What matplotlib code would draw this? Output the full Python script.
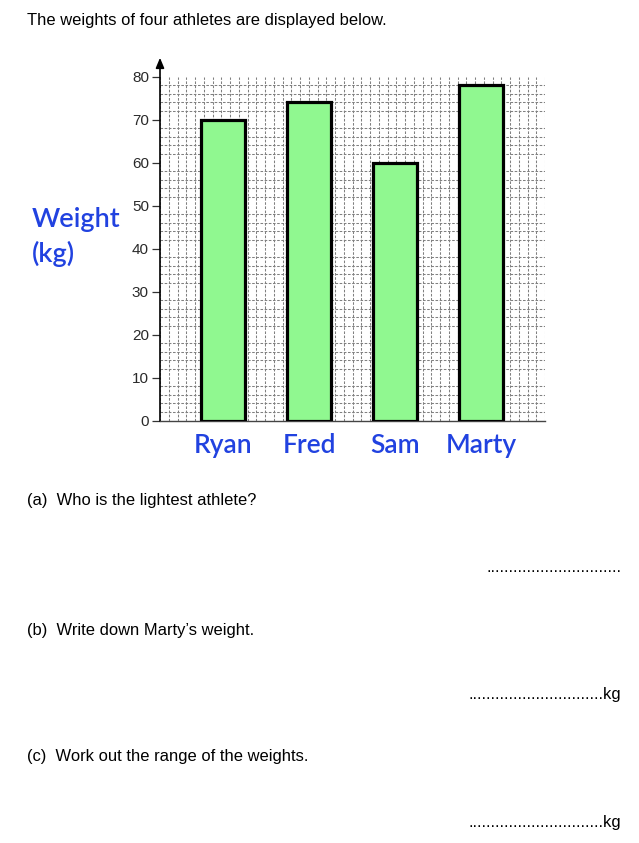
import numpy as np
import matplotlib
matplotlib.use("Agg")
import matplotlib.pyplot as plt

athletes = ["Ryan", "Fred", "Sam", "Marty"]
weights = [70, 74, 60, 78]
y_ticks = [0, 10, 20, 30, 40, 50, 60, 70, 80]

W, H = 639, 843
fig = plt.figure(figsize=(W / 100, H / 100), dpi=100)
fig.patch.set_facecolor("white")

def fx(px):
    return px / W

def fy(py):
    return 1 - py / H

left_px, right_px, top_px, bot_px = 160, 545, 76.5, 420.5
ax = fig.add_axes([fx(left_px), fy(bot_px), fx(right_px - left_px), (bot_px - top_px) / H])

x = np.arange(len(athletes))
xlim = (-0.733, 3.744)
ax.set_xlim(*xlim)
ax.set_ylim(0, 80)

# grid
ax.set_xticks(np.linspace(xlim[0], xlim[1], 45), minor=True)
ax.set_yticks(np.arange(0, 81, 2), minor=True)
ax.grid(which="minor", color="#808080", linestyle=(0, (2.5, 1.5)), linewidth=0.75, zorder=0)
ax.set_axisbelow(True)

ax.bar(x, weights, width=0.52, color="#90f890", edgecolor="black", linewidth=2.3, zorder=3)

ax.set_yticks(y_ticks)
ax.set_yticklabels([str(v) for v in y_ticks], fontsize=11, color="#2a2a2a", family="Liberation Sans")
ax.tick_params(axis="y", which="major", length=6, width=0.9, color="#333333", pad=2)
ax.tick_params(axis="y", which="minor", length=0)
ax.tick_params(axis="x", which="both", length=0)
ax.set_xticks(x)
ax.set_xticklabels(athletes, fontsize=19, color="#2142e0", family="Lato", fontweight="semibold")
ax.tick_params(axis="x", which="major", pad=9)

for s in ["top", "right"]:
    ax.spines[s].set_visible(False)
ax.spines["left"].set_linewidth(1.2)
ax.spines["left"].set_color("black")
ax.spines["bottom"].set_linewidth(1.0)
ax.spines["bottom"].set_color("#444444")

# y-axis arrow
ax.annotate("", xy=(xlim[0], 85), xytext=(xlim[0], 79.5), xycoords="data",
            arrowprops=dict(arrowstyle="-|>,head_length=0.6,head_width=0.25", color="black", lw=1.2),
            annotation_clip=False)

fig.text(fx(32), fy(237), "Weight\n(kg)", fontsize=19.5, color="#2142e0", family="Lato",
         fontweight="semibold", ha="left", va="center", linespacing=1.45)

tf = dict(fontsize=11.9, family="Liberation Sans", color="black", ha="left", va="center")
fig.text(fx(27), fy(20), "The weights of four athletes are displayed below.", **tf)
fig.text(fx(27), fy(501), "(a)  Who is the lightest athlete?", **tf)
fig.text(fx(27), fy(630), "(b)  Write down Marty\u2019s weight.", **tf)
fig.text(fx(27), fy(757), "(c)  Work out the range of the weights.", **tf)

rf = dict(fontsize=11.9, family="Liberation Sans", color="black", ha="right", va="center")
fig.text(fx(621), fy(567), "." * 30, **rf)
fig.text(fx(621), fy(694), "." * 30 + "kg", **rf)
fig.text(fx(621), fy(822), "." * 30 + "kg", **rf)

fig.savefig("out.png", dpi=100, facecolor="white")
